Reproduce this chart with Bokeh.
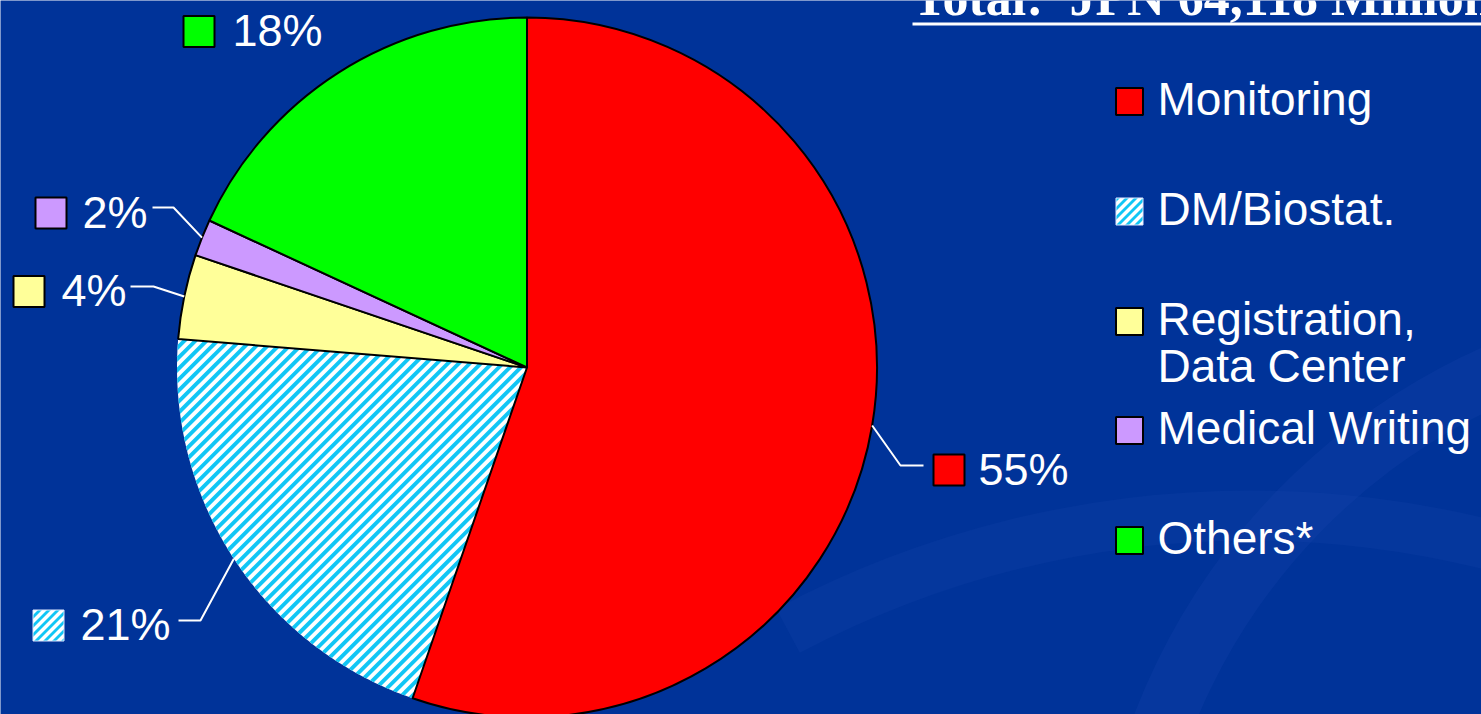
import math
from bokeh.plotting import figure
from bokeh.models import Range1d
from bokeh.core.properties import value
from bokeh.embed import file_html
from bokeh.resources import INLINE

# ---- data ----
categories = ["Monitoring", "DM/Biostat.", "Registration,\nData Center", "Medical Writing", "Others*"]
shares = [55.3, 21.0, 3.9, 1.7, 18.1]
colors = ["#ff0000", "#ffffff", "#ffff99", "#cc99ff", "#00ff00"]
hatched_flags = [False, True, False, False, False]
title_text = "Total:\u00a0 JPN 64,118 Million"

W, H = 1481, 714
BG = "#003399"
HATCH = "#11c6f5"
BASE_SHIFT = 0.4  # correction of rendered baseline, fraction of font size

def Y(y):
    return H - y

def TY(baseline, size):
    return Y(baseline - BASE_SHIFT * size)

p = figure(width=W, height=H, output_backend="svg", toolbar_location=None,
           x_range=Range1d(0, W), y_range=Range1d(0, H), min_border=0,
           background_fill_color=BG, border_fill_color=BG)
p.axis.visible = False
p.grid.visible = False
p.outline_line_color = None

# faint background swooshes
p.annular_wedge(x=[1750], y=[Y(950)], inner_radius=600, outer_radius=660,
                start_angle=math.radians(100), end_angle=math.radians(172),
                fill_color="#2050b8", line_color=None, fill_alpha=0.18)
p.annular_wedge(x=[1250], y=[Y(1500)], inner_radius=960, outer_radius=1010,
                start_angle=math.radians(62), end_angle=math.radians(118),
                fill_color="#2050b8", line_color=None, fill_alpha=0.15)


def clip_half(poly, a, b, c):
    """keep points with a*x + b*y + c >= 0"""
    out = []
    n = len(poly)
    for i in range(n):
        P, Q = poly[i], poly[(i + 1) % n]
        fp = a * P[0] + b * P[1] + c
        fq = a * Q[0] + b * Q[1] + c
        if fp >= 0:
            out.append(P)
        if (fp >= 0) != (fq >= 0):
            t = fp / (fp - fq)
            out.append((P[0] + t * (Q[0] - P[0]), P[1] + t * (Q[1] - P[1])))
    return out


def stripes(poly, period, width):
    xs, ys = [], []
    vals = [pt[1] - pt[0] for pt in poly]
    lo, hi = min(vals), max(vals)
    k = math.floor(lo / period)
    while k * period <= hi:
        c0 = k * period
        band = clip_half(poly, -1, 1, -c0)           # y - x >= c0
        band = clip_half(band, 1, -1, c0 + width)     # y - x <= c0 + width
        if len(band) >= 3:
            xs.append([pt[0] for pt in band])
            ys.append([pt[1] for pt in band])
        k += 1
    return xs, ys


def draw_hatched_poly(poly, period, width):
    p.patch(x=[pt[0] for pt in poly], y=[pt[1] for pt in poly],
            fill_color="white", line_color=None)
    sx, sy = stripes(poly, period, width)
    p.patches(xs=sx, ys=sy, fill_color=HATCH, line_color=None)


def box(cxb, cyb, size, color, hatched):
    if hatched:
        h = size / 2
        poly = [(cxb - h, cyb - h), (cxb + h, cyb - h), (cxb + h, cyb + h), (cxb - h, cyb + h)]
        draw_hatched_poly(poly, 9, 4)
        p.rect(x=[cxb], y=[cyb], width=size, height=size, fill_color=None,
               line_color="#dde8ff", line_width=1)
    else:
        p.rect(x=[cxb], y=[cyb], width=size, height=size, fill_color=color,
               line_color="black", line_width=2)


# ---- pie ----
cx, cy, R = 526.5, Y(367), 350
total = sum(shares)
starts, ends, mids = [], [], []
cum = 0.0
for v in shares:
    a0 = math.pi / 2 - 2 * math.pi * cum / total
    cum += v
    a1 = math.pi / 2 - 2 * math.pi * cum / total
    starts.append(a0)
    ends.append(a1)
    mids.append((a0 + a1) / 2)

for i in range(len(shares)):
    if hatched_flags[i]:
        n = 80
        poly = [(cx, cy)] + [
            (cx + R * math.cos(starts[i] + (ends[i] - starts[i]) * j / n),
             cy + R * math.sin(starts[i] + (ends[i] - starts[i]) * j / n))
            for j in range(n + 1)]
        draw_hatched_poly(poly, 11, 5.5)

for i in range(len(shares)):
    if not hatched_flags[i]:
        p.wedge(x=[cx], y=[cy], radius=R, start_angle=[starts[i]], end_angle=[ends[i]],
                direction="clock", fill_color=colors[i], line_color="black", line_width=2)

# ---- percentage labels (layout positions) ----
lab_layout = [
    dict(box=(948.5, 469.5), tx=978, ty=487, elbow=(900, 465), end=(923, 465)),
    dict(box=(48, 625), tx=80, ty=642, elbow=(200, 620), end=(178, 620)),
    dict(box=(28.5, 291), tx=61, ty=308, elbow=(153, 286), end=(130, 286)),
    dict(box=(50.5, 212.5), tx=82, ty=230, elbow=(173, 207), end=(152, 207)),
    dict(box=(198.5, 31), tx=232, ty=48, elbow=None, end=None),
]
PCT_SIZE = 45
for i, L in enumerate(lab_layout):
    if L["elbow"] is not None:
        sx = cx + R * math.cos(mids[i])
        sy = cy + R * math.sin(mids[i])
        p.line(x=[sx, L["elbow"][0], L["end"][0]],
               y=[sy, Y(L["elbow"][1]), Y(L["end"][1])],
               line_color="white", line_width=2)
    bx, by = L["box"]
    box(bx, Y(by), 31, colors[i], hatched_flags[i])
    p.text(x=[L["tx"]], y=[TY(L["ty"], PCT_SIZE)], text=[f"{round(shares[i])}%"],
           text_font=value("Liberation Sans"), text_font_size=f"{PCT_SIZE}px",
           text_color="white", text_baseline="alphabetic", text_align="left")

# ---- legend (right) ----
leg_box_x = 1129
leg_text_x = 1157
leg_baselines = [117, 227, 337, 446, 556]
line_gap = 47
LEG_SIZE = 46
for i, cat in enumerate(categories):
    b = leg_baselines[i]
    box(leg_box_x, Y(b - 16), 27, colors[i], hatched_flags[i])
    for k, ln in enumerate(cat.split("\n")):
        p.text(x=[leg_text_x], y=[TY(b + k * line_gap, LEG_SIZE)], text=[ln],
               text_font=value("Liberation Sans"), text_font_size=f"{LEG_SIZE}px",
               text_color="white", text_baseline="alphabetic", text_align="left")

# ---- title (clipped at top, as in the original) ----
TITLE_SIZE = 52
p.text(x=[912], y=[TY(18, TITLE_SIZE)], text=[title_text], text_font=value("Liberation Serif"),
       text_font_style="bold", text_font_size=f"{TITLE_SIZE}px", text_color="white",
       text_baseline="alphabetic", text_align="left")
p.line(x=[912, W], y=[Y(23.5), Y(23.5)], line_color="white", line_width=3)

open("out.html", "w").write(file_html(p, INLINE))
